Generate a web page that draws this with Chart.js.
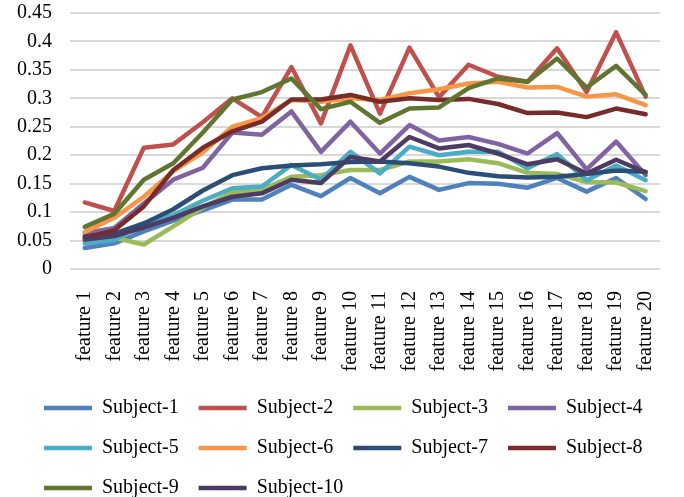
<html>
<head>
<meta charset="utf8">
<title>Subjects by feature</title>
<style>
  html, body { margin: 0; padding: 0; background: #fff; overflow: hidden; }
  .box { width: 684px; height: 508px; position: relative; }
</style>
</head>
<body>
<div class="box">
  <canvas id="SubjChart"></canvas>
</div>
<script src="https://cdn.jsdelivr.net/npm/chart.js@4"></script>
<script>
var features = ['feature 1','feature 2','feature 3','feature 4','feature 5','feature 6','feature 7','feature 8','feature 9','feature 10',
                'feature 11','feature 12','feature 13','feature 14','feature 15','feature 16','feature 17','feature 18','feature 19','feature 20'];

var subject1  = [0.037,0.045,0.066,0.085,0.103,0.122,0.122,0.148,0.128,0.160,0.133,0.162,0.139,0.151,0.150,0.143,0.160,0.136,0.160,0.123];
var subject2  = [0.117,0.102,0.213,0.219,0.258,0.300,0.267,0.355,0.256,0.393,0.273,0.389,0.302,0.359,0.338,0.329,0.388,0.311,0.416,0.303];
var subject3  = [0.050,0.055,0.043,0.075,0.108,0.135,0.139,0.162,0.165,0.174,0.174,0.189,0.189,0.193,0.186,0.169,0.167,0.153,0.152,0.137];
var subject4  = [0.063,0.072,0.115,0.157,0.178,0.240,0.236,0.277,0.206,0.259,0.203,0.253,0.226,0.232,0.220,0.203,0.239,0.175,0.224,0.165];
var subject5  = [0.045,0.051,0.080,0.095,0.120,0.142,0.145,0.183,0.157,0.206,0.168,0.215,0.200,0.206,0.206,0.177,0.202,0.156,0.182,0.156];
var subject6  = [0.065,0.090,0.127,0.172,0.205,0.250,0.265,0.297,0.294,0.300,0.297,0.309,0.316,0.326,0.329,0.319,0.320,0.303,0.307,0.288];
var subject7  = [0.057,0.062,0.080,0.105,0.138,0.165,0.177,0.182,0.184,0.188,0.189,0.186,0.180,0.169,0.163,0.161,0.162,0.167,0.173,0.171];
var subject8  = [0.055,0.068,0.110,0.174,0.213,0.242,0.259,0.298,0.298,0.306,0.294,0.300,0.297,0.299,0.290,0.274,0.275,0.267,0.282,0.272];
var subject9  = [0.074,0.097,0.157,0.186,0.240,0.298,0.311,0.335,0.281,0.294,0.257,0.282,0.284,0.318,0.335,0.329,0.370,0.319,0.357,0.306];
var subject10 = [0.052,0.058,0.073,0.090,0.110,0.127,0.133,0.157,0.151,0.197,0.189,0.232,0.212,0.218,0.203,0.184,0.193,0.168,0.192,0.170];

var names  = ['Subject-1','Subject-2','Subject-3','Subject-4','Subject-5','Subject-6','Subject-7','Subject-8','Subject-9','Subject-10'];
var series = [subject1,subject2,subject3,subject4,subject5,subject6,subject7,subject8,subject9,subject10];
var colors = ['#4F81BD','#C0504D','#9BBB59','#8064A2','#4BACC6','#F79646','#2C4D75','#772C2A','#5F7530','#4D3B62'];

var FONT = 'Liberation Serif, Times New Roman, serif';

var datasets = [];
for (var i = 0; i < series.length; i++) {
    datasets.push({
        label: names[i],
        data: series[i],
        borderColor: colors[i],
        backgroundColor: colors[i],
        borderWidth: 4.5,
        borderJoinStyle: 'round',
        borderCapStyle: 'round',
        pointRadius: 0,
        pointHoverRadius: 0,
        tension: 0,
        fill: false,
        order: series.length - i   // later series drawn on top, like the original
    });
}

// push the legend rows a bit to the right of the y labels
var legendShift = {
    id: 'legendShift',
    afterLayout: function(chart) {
        if (chart.legend) { chart.legend.left += 10; }
    }
};

new Chart(document.getElementById('SubjChart'), {
    type: 'line',
    data: { labels: features, datasets: datasets },
    plugins: [legendShift],
    options: {
        responsive: true,
        maintainAspectRatio: false,
        animation: false,
        layout: { padding: { left: 14, right: 14, top: 13, bottom: 0 } },
        plugins: {
            tooltip: { enabled: false },
            legend: {
                position: 'bottom',
                align: 'start',
                labels: {
                    usePointStyle: true,
                    pointStyle: 'line',
                    pointStyleWidth: 48,
                    padding: 20,
                    color: '#000',
                    font: { family: FONT, size: 20 },
                    sort: function(a, b) { return a.datasetIndex - b.datasetIndex; }
                }
            }
        },
        scales: {
            x: {
                offset: true,
                grid: { display: false },
                border: { display: false },
                afterFit: function(s) { s.height = 109; },
                ticks: {
                    minRotation: 90,
                    maxRotation: 90,
                    autoSkip: false,
                    padding: 14,
                    color: '#000',
                    font: { family: FONT, size: 20 }
                }
            },
            y: {
                min: 0,
                max: 0.45,
                afterFit: function(s) { s.width = 56; },
                grid: { color: '#d9d9d9', lineWidth: 2, drawTicks: true, tickLength: 18, tickColor: 'rgba(0,0,0,0)' },
                border: { display: false },
                ticks: {
                    stepSize: 0.05,
                    maxTicksLimit: 20,
                    autoSkip: false,
                    padding: 0,
                    color: '#000',
                    font: { family: FONT, size: 20, lineHeight: 1 },
                    callback: function(v) { return String(+v.toFixed(2)); }
                }
            }
        }
    }
});
</script>
</body>
</html>
